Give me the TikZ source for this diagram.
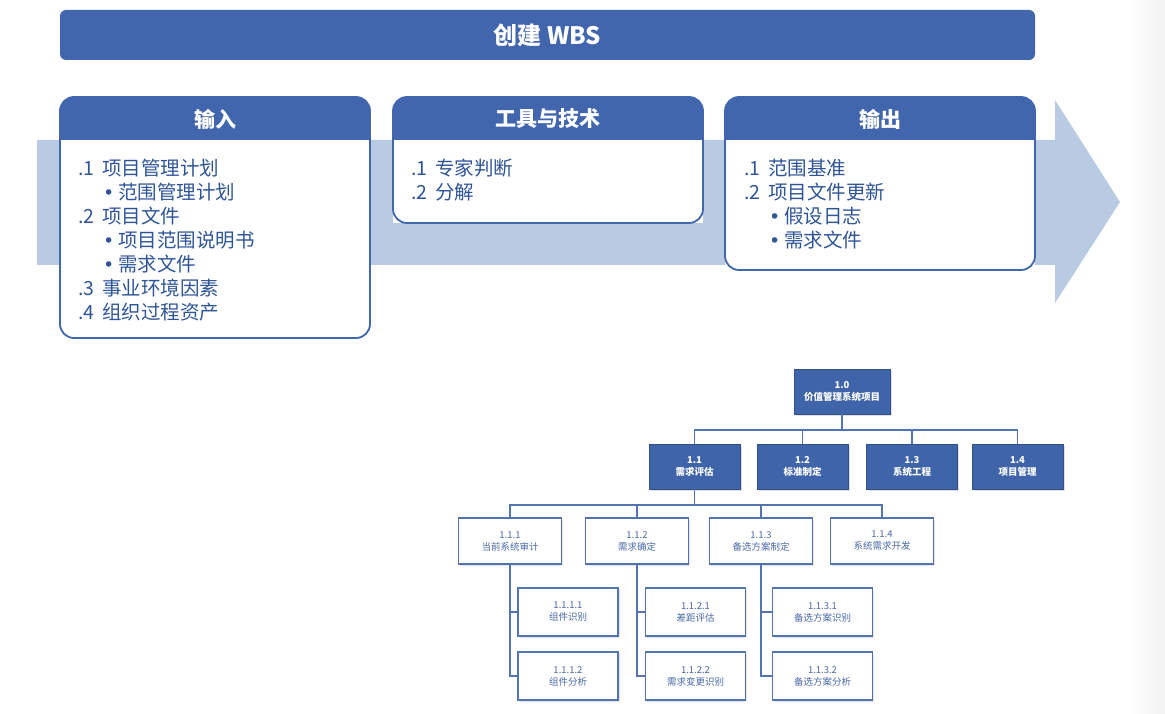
\documentclass[tikz,border=0pt]{standalone}
\usepackage{fontspec}
\setmainfont{Noto Sans CJK SC}
\newfontfamily\dvfont{DejaVu Sans}
\usetikzlibrary{calc,shadows}
\definecolor{hdr}{HTML}{4266AE}
\definecolor{band}{HTML}{B9CBE3}
\definecolor{txt}{HTML}{2F5597}
\definecolor{wline}{HTML}{5373B2}
\definecolor{wtxt}{HTML}{4A69A5}
\definecolor{wfill}{HTML}{3F64A9}
\newcommand\mypanelhdr[1]{%
  \begin{scope}
    \clip (#1.north west) rectangle ($(#1.north east)+(0,43)$);
    \fill[hdr,rounded corners=14pt] (#1.north west) rectangle ($(#1.north east)+(0,80)$);
  \end{scope}
  \draw[hdr,line width=1.8pt,rounded corners=14pt] (#1.north west) rectangle (#1.south east);}
\newcommand\mybul{\makebox[15pt][l]{{\dvfont\fontsize{19}{24}\selectfont •}}}
\newcommand\mynum[1]{\makebox[24pt][l]{#1}}
\begin{document}
\begin{tikzpicture}[x=1pt,y=-1pt,
  titlebar/.style={fill=hdr,rounded corners=6pt,minimum width=975pt,minimum height=50pt,inner sep=0pt,
    text=white,font=\fontsize{24}{28}\selectfont\bfseries},
  panel/.style={fill=white,inner sep=0pt,outer sep=0pt},
  hdrtext/.style={text=white,font=\fontsize{21}{24}\selectfont\bfseries,inner sep=0pt},
  item/.style={text=txt,font=\fontsize{19.5}{24}\selectfont,inner sep=0pt,anchor=west},
  wbsdark/.style={fill=wfill,draw=wfill!80!black,line width=0.6pt,minimum width=91pt,minimum height=45pt,inner sep=0pt,
    text=white,font=\fontsize{9.5}{12}\selectfont\bfseries,align=center,
    drop shadow={opacity=0.25,shadow xshift=1.5pt,shadow yshift=-1.5pt}},
  wbslight/.style={fill=white,draw=wline,line width=1.2pt,minimum width=103pt,minimum height=46pt,inner sep=0pt,
    text=wtxt,font=\fontsize{9.5}{12}\selectfont,align=center,
    drop shadow={opacity=0.2,shadow xshift=1.5pt,shadow yshift=-1.5pt}},
  wbsleaf/.style={wbslight,minimum width=100pt,minimum height=48pt},
  conn/.style={draw=wline,line width=1.2pt}
]
\useasboundingbox (0,0) rectangle (1165,714);
\fill[white] (0,0) rectangle (1165,714);
\shade[left color=white,right color=black!5] (1128,0) rectangle (1165,714);

% big arrow
\fill[band] (37,140) -- (1055,140) -- (1055,100) -- (1120,202) -- (1055,303) -- (1055,265) -- (37,265) -- cycle;

% title
\node[titlebar] (title) at (547.5,35) {创建 WBS};

% panels
\node[panel,minimum width=310pt,minimum height=241pt] (inbox) at (215,217.5) {};
\node[panel,minimum width=310pt,minimum height=126pt] (toolbox) at (548,160) {};
\node[panel,minimum width=310pt,minimum height=173pt] (outbox) at (880,183.5) {};
\mypanelhdr{inbox}
\mypanelhdr{toolbox}
\mypanelhdr{outbox}
\node[hdrtext] (inhdr) at (inbox.north |- 0,119) {输入};
\node[hdrtext] (toolhdr) at (toolbox.north |- 0,119) {工具与技术};
\node[hdrtext] (outhdr) at (outbox.north |- 0,119) {输出};

% input items
\node[item] (in1) at (78,168) {\mynum{.1}项目管理计划};
\node[item] (in1a) at (103,192) {\mybul 范围管理计划};
\node[item] (in2) at (78,216) {\mynum{.2}项目文件};
\node[item] (in2a) at (103,240) {\mybul 项目范围说明书};
\node[item] (in2b) at (103,264) {\mybul 需求文件};
\node[item] (in3) at (78,288) {\mynum{.3}事业环境因素};
\node[item] (in4) at (78,312) {\mynum{.4}组织过程资产};
% tools items
\node[item] (t1) at (411,168) {\mynum{.1}专家判断};
\node[item] (t2) at (411,192) {\mynum{.2}分解};
% output items
\node[item] (o1) at (744,168) {\mynum{.1}范围基准};
\node[item] (o2) at (744,192) {\mynum{.2}项目文件更新};
\node[item] (o2a) at (769,216) {\mybul 假设日志};
\node[item] (o2b) at (769,240) {\mybul 需求文件};

% WBS tree
\node[wbsdark,minimum width=96pt] (n10) at (842,391.5) {1.0\\价值管理系统项目};
\node[wbsdark] (n11) at (694.5,466.5) {1.1\\需求评估};
\node[wbsdark] (n12) at (802.5,466.5) {1.2\\标准制定};
\node[wbsdark] (n13) at (912,466.5) {1.3\\系统工程};
\node[wbsdark] (n14) at (1017.5,466.5) {1.4\\项目管理};

\node[wbslight] (n111) at (510,541) {1.1.1\\当前系统审计};
\node[wbslight] (n112) at (637,541) {1.1.2\\需求确定};
\node[wbslight] (n113) at (761,541) {1.1.3\\备选方案制定};
\node[wbslight] (n114) at (882,541) {1.1.4\\系统需求开发};

\node[wbsleaf] (n1111) at (568,612) {1.1.1.1\\组件识别};
\node[wbsleaf] (n1112) at (568,676) {1.1.1.2\\组件分析};
\node[wbsleaf] (n1121) at (695.5,612) {1.1.2.1\\差距评估};
\node[wbsleaf] (n1122) at (695.5,676) {1.1.2.2\\需求变更识别};
\node[wbsleaf] (n1131) at (822.5,612) {1.1.3.1\\备选方案识别};
\node[wbsleaf] (n1132) at (822.5,676) {1.1.3.2\\备选方案分析};

\coordinate (busA) at (842,430);
\coordinate (busB) at (694.5,505);
\foreach \c in {n11,n12,n13,n14}
  \draw[conn] (n10.south) -- (n10.south |- busA) -| (\c.north);
\foreach \c in {n111,n112,n113,n114}
  \draw[conn] (n11.south) -- (n11.south |- busB) -| (\c.north);
\foreach \p/\a/\b in {n111/n1111/n1112,n112/n1121/n1122,n113/n1131/n1132}{
  \draw[conn] (\p.south) |- (\a.west);
  \draw[conn] (\p.south) |- (\b.west);
}
\end{tikzpicture}
\end{document}
